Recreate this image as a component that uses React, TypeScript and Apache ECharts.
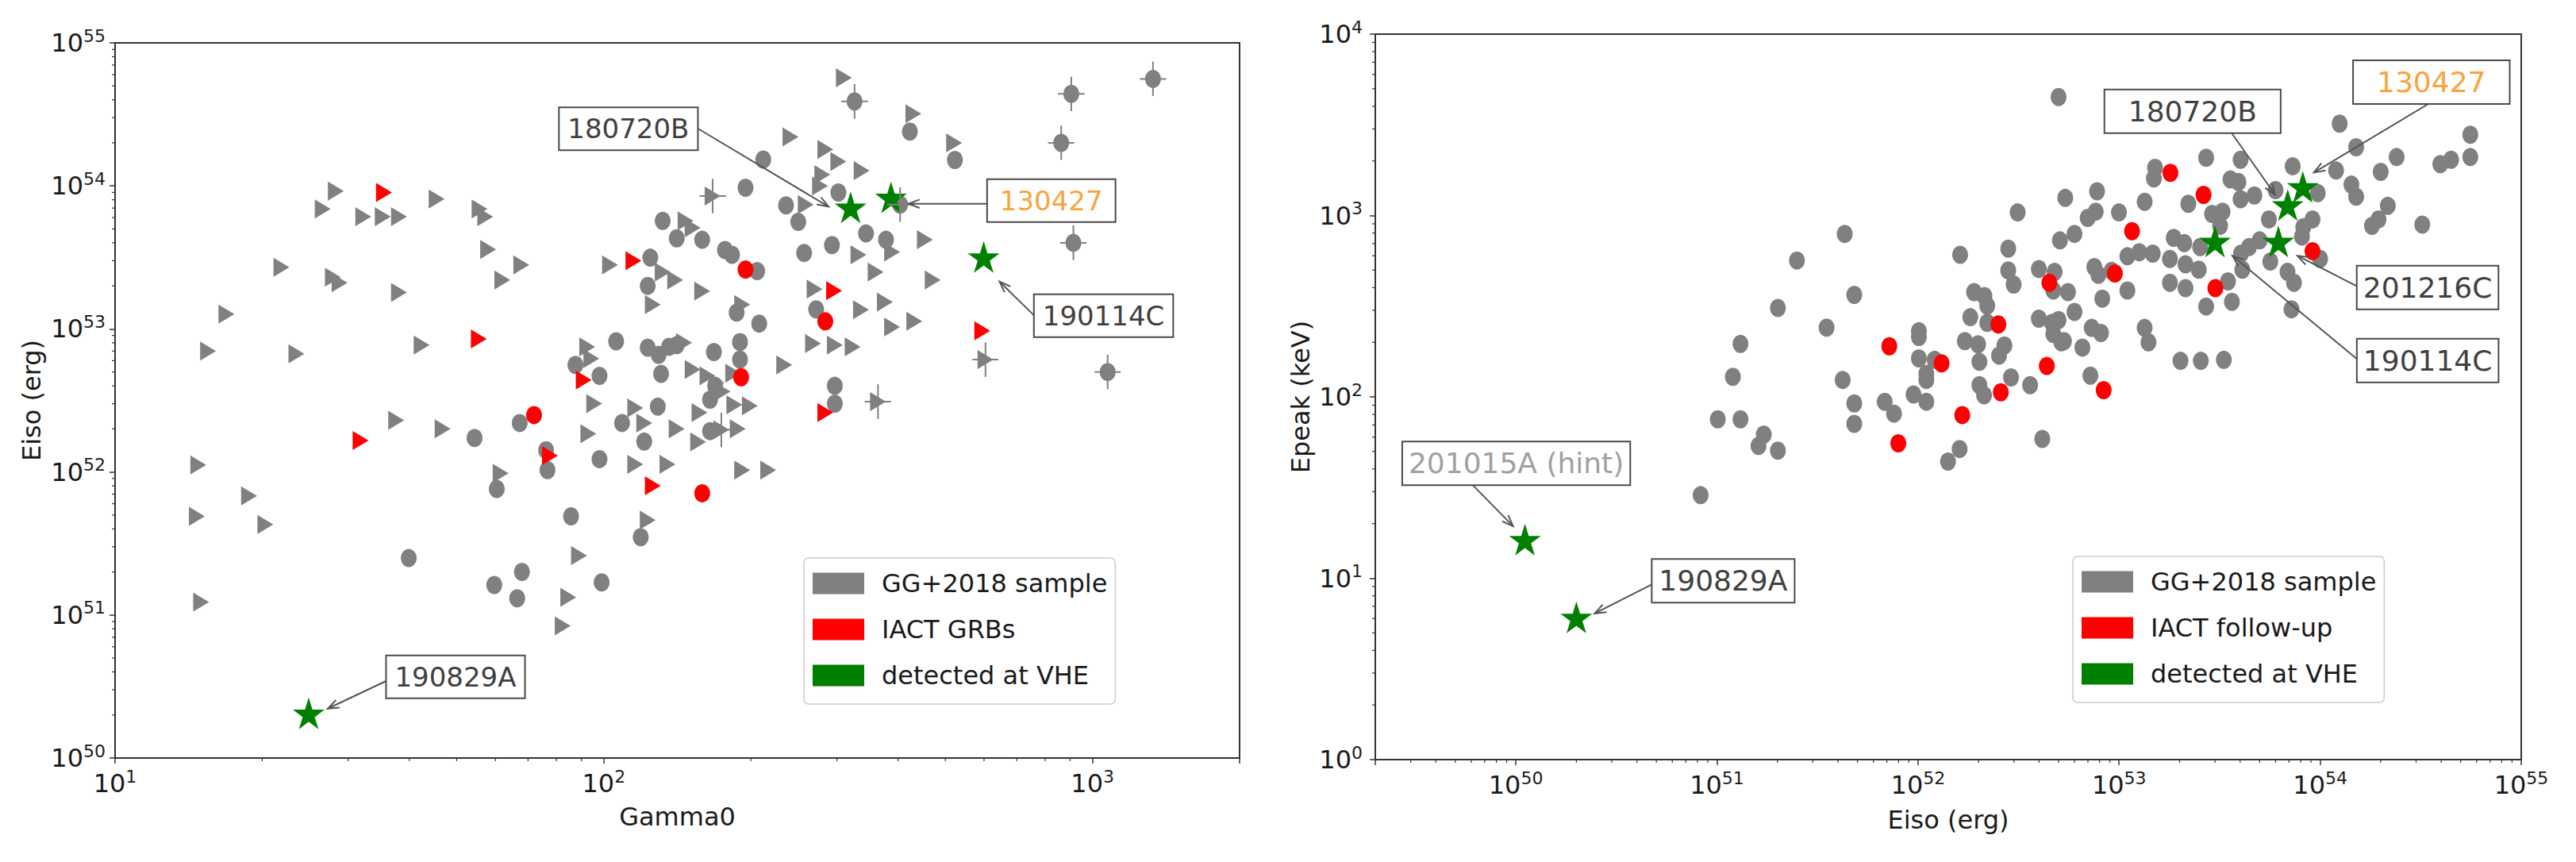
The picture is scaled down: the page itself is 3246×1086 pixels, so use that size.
import React, { useEffect, useRef } from 'react';
import * as echarts from 'echarts';

// ---------------- LEFT PANEL DATA: Gamma0 vs Eiso ----------------
// GG+2018 sample, measured Gamma0 (circles): [Gamma0, Eiso]
const leftGreyCircles: [number, number][] = [
  [106, 8.2e52], [87.5, 5.6e52], [98, 4.7e52], [67.3, 2.2e52], [109, 2.2e52], [54.4, 1.73e52],
  [76.2, 1.42e52], [76.7, 1.03e52], [98, 1.23e52], [60.4, 7.6e51], [85.7, 4.9e51], [39.9, 2.5e51],
  [68, 2.0e51], [59.7, 1.62e51], [66.5, 1.31e51], [99, 1.69e51], [119, 3.5e51], [132, 5.7e53],
  [141, 4.3e53], [159, 4.2e53], [177, 3.56e53], [183, 3.3e53], [206, 2.54e53], [124.5, 3.15e53],
  [123, 2.0e53], [187, 1.3e53], [208, 1.09e53], [123, 7.4e52], [129.5, 6.6e52], [136, 7.5e52],
  [141, 7.7e52], [168, 6.9e52], [190, 8.1e52], [190, 6.1e52], [131, 4.85e52], [169, 4.0e52],
  [165, 3.2e52], [129, 2.86e52], [165, 1.93e52], [121, 1.63e52], [297, 4.0e52], [297, 3.0e52],
  [212, 1.53e54], [195, 9.7e53], [236, 7.3e53], [250, 5.6e53], [302, 9.0e53], [344, 4.65e53],
  [378, 4.2e53], [293, 3.86e53], [257, 3.4e53], [272, 1.37e53], [423, 2.4e54], [523, 1.52e54],
];
// GG+2018 sample, lower limits on Gamma0 (right-pointing triangles): [Gamma0, Eiso]
const leftGreyTriangles: [number, number][] = [
  [28.3, 9.2e53], [45.5, 8.1e53], [26.6, 6.9e53], [32.2, 6.1e53], [35.3, 6.1e53], [38.1, 6.1e53],
  [55.7, 6.9e53], [57.2, 6.1e53], [58, 3.6e53], [21.9, 2.7e53], [27.9, 2.3e53], [28.8, 2.1e53],
  [38.1, 1.8e53], [62, 2.2e53], [67.8, 2.8e53], [103, 2.8e53], [16.9, 1.27e53], [15.5, 7.0e52],
  [23.5, 6.7e52], [42.4, 7.7e52], [92.5, 7.5e52], [94.3, 6.2e52], [95.6, 3.0e52], [37.6, 2.3e52],
  [46.8, 2.0e52], [93, 1.85e52], [14.8, 1.12e52], [61.5, 9.8e51], [18.8, 6.8e51], [14.7, 4.9e51],
  [20.3, 4.3e51], [89, 2.6e51], [84.6, 1.33e51], [15.0, 1.23e51], [82.4, 8.4e50], [132, 2.5e53],
  [140, 2.2e53], [159, 1.84e53], [126, 1.48e53], [192, 1.48e53], [147, 5.7e53], [152, 5.1e53],
  [152, 5.2e52], [163, 4.7e52], [170, 4.2e52], [184, 4.9e52], [175, 3.65e52], [185, 2.95e52],
  [199, 2.9e52], [157, 2.6e52], [116, 2.8e52], [121, 2.2e52], [141, 2.0e52], [188, 2.0e52],
  [156, 1.62e52], [116, 1.13e52], [135, 1.13e52], [192, 1.03e52], [217, 1.03e52], [123, 4.6e51],
  [234, 5.6e52], [268, 7.9e52], [297, 7.7e52], [323, 7.5e52], [270, 1.9e53], [336, 1.36e53],
  [376, 1.54e53], [389, 1.03e53], [432, 1.13e53], [454, 4.2e53], [389, 3.45e53], [332, 3.3e53],
  [360, 2.5e53], [471, 2.2e53], [259, 7.4e53], [241, 2.2e54], [284, 1.8e54], [302, 1.48e54],
  [337, 1.28e54], [280, 1.2e54], [277, 1.0e54], [310, 5.7e54], [430, 3.2e54], [521, 2.0e54],
  [146, 8.0e52],
];
// points with error bars: [Gamma0, Gamma0 low, Gamma0 high, Eiso, Eiso low, Eiso high]
const leftErrCircles: number[][] = [
  [326, 306, 347, 3.9e54, 2.95e54, 5.15e54],
  [1330, 1250, 1415, 5.6e54, 4.25e54, 7.4e54],
  [905, 850, 963, 4.4e54, 3.33e54, 5.8e54],
  [863, 811, 918, 2.0e54, 1.52e54, 2.64e54],
  [914, 859, 972, 4.0e53, 3.03e53, 5.28e53],
  [1074, 1010, 1142, 5.0e52, 3.79e52, 6.6e52],
  [404, 380, 430, 7.4e53, 5.6e53, 9.77e53],
];
const leftErrTriangles: number[][] = [
  [167, 157, 178, 8.5e53, 6.44e53, 1.12e54],
  [174, 163, 185, 1.97e52, 1.49e52, 2.6e52],
  [604, 568, 642, 6.1e52, 4.62e52, 8.05e52],
  [364, 342, 387, 3.1e52, 2.35e52, 4.1e52],
];
// IACT GRBs
const leftRedCircles: [number, number][] = [
  [195, 2.6e53], [191, 4.6e52], [159, 7.1e51], [284, 1.13e53], [72, 2.5e52],
];
const leftRedTriangles: [number, number][] = [
  [35.5, 9.0e53], [115, 3.0e53], [55.5, 8.5e52], [91, 4.4e52], [31.8, 1.66e52],
  [77.6, 1.3e52], [296, 1.85e53], [595, 9.7e52], [126, 8.0e51], [284, 2.6e52],
];
// detected at VHE
const leftVheNames = ['190829A', '180720B', '130427', '190114C'];
const leftVheGamma = [24.9, 320, 387, 599];
const leftVheEiso = [2.0e50, 6.9e53, 8.1e53, 3.1e53];

// ---------------- RIGHT PANEL DATA: Eiso vs Epeak ----------------
const rightGrey: [number, number][] = [
  [4.32e51, 792], [2.5e51, 565], [4.82e51, 365], [2.01e51, 309], [3.51e51, 241], [1.31e51, 196],
  [1.01e52, 230], [1.01e52, 214], [1.01e52, 163], [1.1e52, 134], [1.1e52, 124], [1.21e52, 160],
  [1.2e51, 129], [4.22e51, 124], [6.83e51, 94], [7.6e51, 80.8], [9.5e51, 103], [1.1e52, 94],
  [1.01e51, 75.2], [1.31e51, 75.2], [1.71e51, 62], [1.61e51, 53.7], [2.01e51, 50.5], [4.82e51, 71],
  [8.3e50, 28.7], [1.41e52, 44], [1.61e52, 51.6], [4.15e52, 58.6], [3.13e52, 1040], [5.4e52, 1250],
  [1.62e52, 607], [2.81e52, 657], [2.81e52, 498], [2.99e52, 416], [3.99e52, 507], [4.78e52, 489],
  [4.71e52, 386], [5.08e52, 729], [6.0e52, 792], [1.9e52, 378], [2.14e52, 360], [2.21e52, 318],
  [1.82e52, 275], [2.21e52, 256], [1.71e52, 203], [1.99e52, 195], [2.02e52, 156], [2.69e52, 192],
  [2.53e52, 169], [2.9e52, 128], [3.61e52, 116], [3.99e52, 270], [4.64e52, 256], [5.0e52, 265],
  [4.71e52, 222], [5.16e52, 200], [2.02e52, 116], [2.13e52, 102], [4.82e51, 92],
  [1.25e54, 3210], [1.51e54, 2380], [2.4e54, 2100], [2.0e54, 1740], [1.2e54, 1770], [7.3e53, 1870],
  [4.02e53, 2030], [2.71e53, 2080], [1.51e53, 1830], [1.49e53, 1600], [3.58e53, 1580], [3.92e53, 1530],
  [4.71e53, 1290], [4.02e53, 1230], [6.0e53, 1380], [9.73e53, 1330], [1.43e54, 1480], [1.51e54, 1270],
  [2.17e54, 1130], [1.95e54, 952], [1.81e54, 877], [9.16e53, 952], [8.24e53, 862], [8.12e53, 766],
  [5.56e53, 952], [3.27e53, 1050], [2.9e53, 1020], [3.18e53, 877], [2.21e53, 1160], [1.34e53, 1190],
  [9.98e52, 1040], [7.77e52, 1360], [6.98e52, 970], [7.65e52, 1050], [1.87e53, 753], [2.11e53, 705],
  [1.1e53, 596], [1.26e53, 627], [1.47e53, 616], [1.79e53, 576], [2.14e53, 538], [2.49e53, 503],
  [2.53e53, 670], [4.04e53, 616], [4.43e53, 670], [5.0e53, 729], [4.1e53, 503], [5.65e53, 557],
  [6.88e53, 489], [7.41e53, 426], [1.0e54, 576], [9.18e52, 495], [7.53e52, 520], [7.89e52, 471],
  [5.57e52, 378], [8.25e52, 348], [1.1e53, 386], [1.79e53, 426], [2.14e53, 398], [3.48e53, 433],
  [2.71e53, 315], [3.64e53, 334], [7.2e53, 304], [6.0e52, 294], [5.32e52, 203], [6.57e52, 187],
  [7.31e52, 240], [8.13e52, 225], [1.34e53, 240], [1.4e53, 200], [2.02e53, 158], [2.55e53, 158],
  [3.32e53, 160], [7.2e52, 131], [5.0e52, 4500], [3.96e54, 1920], [4.48e54, 2030], [5.58e54, 2790],
  [5.58e54, 2100], [3.22e54, 891],
];
const rightRed: [number, number][] = [
  [7.2e51, 190], [1.31e52, 153], [7.98e51, 55.5], [2.51e52, 251], [4.37e52, 148], [4.5e52, 426],
  [2.58e52, 106], [1.66e52, 79.4], [1.8e53, 1720], [2.63e53, 1300], [1.16e53, 819], [9.16e53, 636],
  [9.53e52, 479], [3.01e53, 398], [8.38e52, 109],
];
const rightVheNames = ['130427', '180720B', '201216C', '190114C', '201015A (hint)', '190829A'];
const rightVheEiso = [8.2e53, 6.9e53, 6.2e53, 3.0e53, 1.11e50, 2.0e50];
const rightVheEpeak = [1410, 1120, 705, 705, 16.0, 5.96];

// ---------------- axis tick positions ----------------
const leftXDecades = [10, 100, 1000];
const leftYDecades = [1e50, 1e51, 1e52, 1e53, 1e54];
const rightXDecades = [1e49, 1e50, 1e51, 1e52, 1e53, 1e54];
const rightYDecades = [1, 10, 100, 1000];
const minorMultipliers = [2, 3, 4, 5, 6, 7, 8, 9];

// ---------------- styling / layout (not data) ----------------
const FONT = 'DejaVu Sans';
const TXT = '#1a1a1a';
const GREY = '#808080';
const RED = '#ff0000';
const GREEN = '#008000';
const STAR =
  'path://M0,-100L22.45,-30.9L95.1,-30.9L36.33,11.8L58.78,80.9L0,38.2L-58.78,80.9L-36.33,11.8L-95.1,-30.9L-22.45,-30.9Z';

type Lay = { dx: number; dy: number; padX: number; sx: number; sy: number; tx: number; ty: number; color: string };
const leftLabelLayout: Lay[] = [
  { dx: 185, dy: -48, padX: 10, sx: -87, sy: 5, tx: 24, ty: -8, color: '#404040' },
  { dx: -280, dy: -101, padX: 10, sx: 88, sy: 0, tx: -28, ty: -3, color: '#404040' },
  { dx: 202, dy: 2, padX: 15, sx: -80, sy: 4, tx: 22, ty: 6, color: '#f9a43c' },
  { dx: 151, dy: 72, padX: 10, sx: -87, sy: 0, tx: 20, ty: 29, color: '#404040' },
];
const rightLabelLayout: Lay[] = [
  { dx: 162, dy: -134, padX: 29, sx: -3, sy: 27, tx: 14, ty: -20, color: '#f9a43c' },
  { dx: -120, dy: -120, padX: 29, sx: 49, sy: 27, tx: -16, ty: -15, color: '#404040' },
  { dx: 188, dy: 56, padX: 7, sx: -88, sy: -1, tx: 24, ty: 16, color: '#404040' },
  { dx: 268, dy: 148, padX: 7, sx: -88, sy: -1, tx: 22, ty: 16, color: '#404040' },
  { dx: -11, dy: -98, padX: 7, sx: -55, sy: 27, tx: -15, ty: -19, color: '#a0a0a0' },
  { dx: 185, dy: -48, padX: 8, sx: -89, sy: 4, tx: 23, ty: -7, color: '#404040' },
];

function minorTicks(decades: number[], lo: number, hi: number): number[] {
  const out: number[] = [];
  decades.forEach((d) => minorMultipliers.forEach((m) => {
    const v = m * d;
    if (v > lo * 1.0001 && v < hi * 0.9999) out.push(v);
  }));
  return out;
}

const tickFormatter = (v: number) => {
  const l = Math.log10(v);
  const e = Math.round(l);
  return Math.abs(l - e) < 1e-6 ? `{b|10}{s|${e}}` : '';
};
const axisLabel = (margin: number) => ({
  margin,
  formatter: tickFormatter,
  rich: {
    b: { fontSize: 32, fontFamily: FONT, color: TXT, lineHeight: 40 },
    s: { fontSize: 22, fontFamily: FONT, color: TXT, lineHeight: 22, verticalAlign: 'top' },
  },
});

function makeAxis(gridIndex: number, min: number, max: number, name: string, nameGap: number, labelMargin: number) {
  return {
    type: 'log',
    logBase: 10,
    gridIndex,
    min,
    max,
    name,
    nameLocation: 'middle',
    nameGap,
    nameTextStyle: { fontSize: 32, fontFamily: FONT, color: TXT },
    axisLine: { show: false },
    axisTick: { show: true, length: 7, lineStyle: { color: '#333', width: 1.5 } },
    axisLabel: axisLabel(labelMargin),
    splitLine: { show: false },
  };
}

function errorBarSeries(axis: number, rows: number[][]) {
  return {
    type: 'custom',
    xAxisIndex: axis,
    yAxisIndex: axis,
    silent: true,
    clip: false,
    z: 4,
    data: rows.map((r) => [r[0], r[3], r[1], r[2], r[4], r[5]]),
    encode: { x: 0, y: 1 },
    renderItem: (_p: any, api: any) => {
      const l = api.coord([api.value(2), api.value(1)]);
      const r = api.coord([api.value(3), api.value(1)]);
      const b = api.coord([api.value(0), api.value(4)]);
      const t = api.coord([api.value(0), api.value(5)]);
      const st = { stroke: GREY, lineWidth: 2 };
      return {
        type: 'group',
        children: [
          { type: 'line', shape: { x1: l[0], y1: l[1], x2: r[0], y2: r[1] }, style: st },
          { type: 'line', shape: { x1: b[0], y1: b[1], x2: t[0], y2: t[1] }, style: st },
        ],
      };
    },
  };
}

function minorTickSeries(axis: number, xs: number[], ys: number[], xRef: number, yRef: number) {
  const data = [
    ...xs.map((v) => [v, yRef, 0]),
    ...ys.map((v) => [xRef, v, 1]),
  ];
  return {
    type: 'custom',
    xAxisIndex: axis,
    yAxisIndex: axis,
    silent: true,
    clip: false,
    z: 6,
    data,
    encode: { x: 0, y: 1 },
    renderItem: (params: any, api: any) => {
      const p = api.coord([api.value(0), api.value(1)]);
      const cs = params.coordSys;
      const st = { stroke: '#333', lineWidth: 1.2 };
      if (api.value(2) === 0) {
        const y = cs.y + cs.height;
        return { type: 'line', shape: { x1: p[0], y1: y, x2: p[0], y2: y + 4 }, style: st };
      }
      const x = cs.x;
      return { type: 'line', shape: { x1: x - 4, y1: p[1], x2: x, y2: p[1] }, style: st };
    },
  };
}

function annotationSeries(axis: number, names: string[], xs: number[], ys: number[], layouts: Lay[], fontSize: number, lineHeight: number) {
  return {
    type: 'custom',
    xAxisIndex: axis,
    yAxisIndex: axis,
    silent: true,
    clip: false,
    z: 10,
    data: names.map((_n, i) => [xs[i], ys[i], i]),
    encode: { x: 0, y: 1 },
    renderItem: (_p: any, api: any) => {
      const i = api.value(2);
      const L = layouts[i];
      const p = api.coord([api.value(0), api.value(1)]);
      const cx = p[0] + L.dx;
      const cy = p[1] + L.dy;
      const sx = cx + L.sx;
      const sy = cy + L.sy;
      const tx = p[0] + L.tx;
      const ty = p[1] + L.ty;
      const ang = Math.atan2(ty - sy, tx - sx);
      const hl = 15;
      const hw = 0.36;
      const h1 = [tx - hl * Math.cos(ang - hw), ty - hl * Math.sin(ang - hw)];
      const h2 = [tx - hl * Math.cos(ang + hw), ty - hl * Math.sin(ang + hw)];
      const st = { stroke: '#555', lineWidth: 2 };
      return {
        type: 'group',
        children: [
          { type: 'line', shape: { x1: sx, y1: sy, x2: tx, y2: ty }, style: st },
          { type: 'polyline', shape: { points: [h1, [tx, ty], h2] }, style: { ...st, fill: 'none' } },
          {
            type: 'text',
            x: cx,
            y: cy,
            style: {
              text: names[i],
              fill: L.color,
              fontSize,
              fontFamily: FONT,
              lineHeight,
              align: 'center',
              verticalAlign: 'middle',
              padding: [7, L.padX],
              backgroundColor: '#ffffff',
              borderColor: '#4a4a4a',
              borderWidth: 2,
            },
          },
        ],
      };
    },
  };
}

const scatter = (axis: number, name: string, data: number[][], color: string, symbol: string, size: number[], rotate = 0, offset = [0, 0]) => ({
  type: 'scatter',
  name,
  xAxisIndex: axis,
  yAxisIndex: axis,
  data,
  symbol,
  symbolSize: size,
  symbolRotate: rotate,
  symbolOffset: offset,
  itemStyle: { color, opacity: 1 },
  silent: true,
  z: 3,
});

const legendBase = {
  orient: 'vertical',
  icon: 'rect',
  itemWidth: 65,
  itemHeight: 27,
  itemGap: 26,
  padding: [16, 10, 20, 11],
  backgroundColor: '#ffffff',
  borderColor: '#cccccc',
  borderWidth: 1.5,
  borderRadius: 6,
  selectedMode: false,
  symbolRotate: 0,
  textStyle: { fontSize: 32, fontFamily: FONT, color: TXT, lineHeight: 27, padding: [0, 0, 0, 17] },
};

const CIRCLE = [20, 23];
const TRI = [24, 20];
const STAR_SIZE = [40, 40];

const option: any = {
  animation: false,
  backgroundColor: '#ffffff',
  textStyle: { fontFamily: FONT },
  grid: [
    { left: 145, top: 54, width: 1417, height: 901, show: true, borderColor: '#333', borderWidth: 2, backgroundColor: 'transparent' },
    { left: 1733, top: 43, width: 1444, height: 914, show: true, borderColor: '#333', borderWidth: 2, backgroundColor: 'transparent' },
  ],
  xAxis: [
    makeAxis(0, 10, 2000, 'Gamma0', 58, 12),
    makeAxis(1, 2e49, 1e55, 'Eiso (erg)', 60, 12),
  ],
  yAxis: [
    makeAxis(0, 1e50, 1e55, 'Eiso (erg)', 89, 12),
    makeAxis(1, 1, 1e4, 'Epeak (keV)', 78, 16),
  ],
  legend: [
    { ...legendBase, left: 1013, top: 703, data: ['GG+2018 sample', 'IACT GRBs', 'detected at VHE'] },
    { ...legendBase, left: 2612, top: 701, data: ['GG+2018 sample', 'IACT follow-up', 'detected at VHE'] },
  ],
  series: [
    // left panel
    scatter(0, 'GG+2018 sample', [...leftGreyCircles, ...leftErrCircles.map((r) => [r[0], r[3]])], GREY, 'circle', CIRCLE),
    scatter(0, 'GG+2018 sample', [...leftGreyTriangles, ...leftErrTriangles.map((r) => [r[0], r[3]])], GREY, 'triangle', TRI, -90),
    scatter(0, 'IACT GRBs', leftRedCircles, RED, 'circle', CIRCLE),
    scatter(0, 'IACT GRBs', leftRedTriangles, RED, 'triangle', TRI, -90),
    scatter(0, 'detected at VHE', leftVheGamma.map((g, i) => [g, leftVheEiso[i]]), GREEN, STAR, STAR_SIZE, 0, [0, -2]),
    errorBarSeries(0, [...leftErrCircles, ...leftErrTriangles]),
    annotationSeries(0, leftVheNames, leftVheGamma, leftVheEiso, leftLabelLayout, 34, 38),
    minorTickSeries(0, minorTicks(leftXDecades, 10, 2000), minorTicks(leftYDecades, 1e50, 1e55), 10, 1e50),
    // right panel
    scatter(1, 'GG+2018 sample', rightGrey, GREY, 'circle', CIRCLE),
    scatter(1, 'IACT follow-up', rightRed, RED, 'circle', CIRCLE),
    scatter(1, 'detected at VHE', rightVheEiso.map((e, i) => [e, rightVheEpeak[i]]), GREEN, STAR, STAR_SIZE, 0, [0, -2]),
    annotationSeries(1, rightVheNames, rightVheEiso, rightVheEpeak, rightLabelLayout, 36, 39),
    minorTickSeries(1, minorTicks(rightXDecades, 2e49, 1e55), minorTicks(rightYDecades, 1, 1e4), 2e49, 1),
  ],
};

export default function App() {
  const ref = useRef<HTMLDivElement>(null);
  useEffect(() => {
    document.body.style.margin = '0';
    const chart = echarts.init(ref.current as HTMLDivElement, undefined, { renderer: 'svg' });
    chart.setOption(option);
    return () => chart.dispose();
  }, []);
  return <div ref={ref} style={{ width: 3246, height: 1086, background: '#ffffff' }} />;
}
